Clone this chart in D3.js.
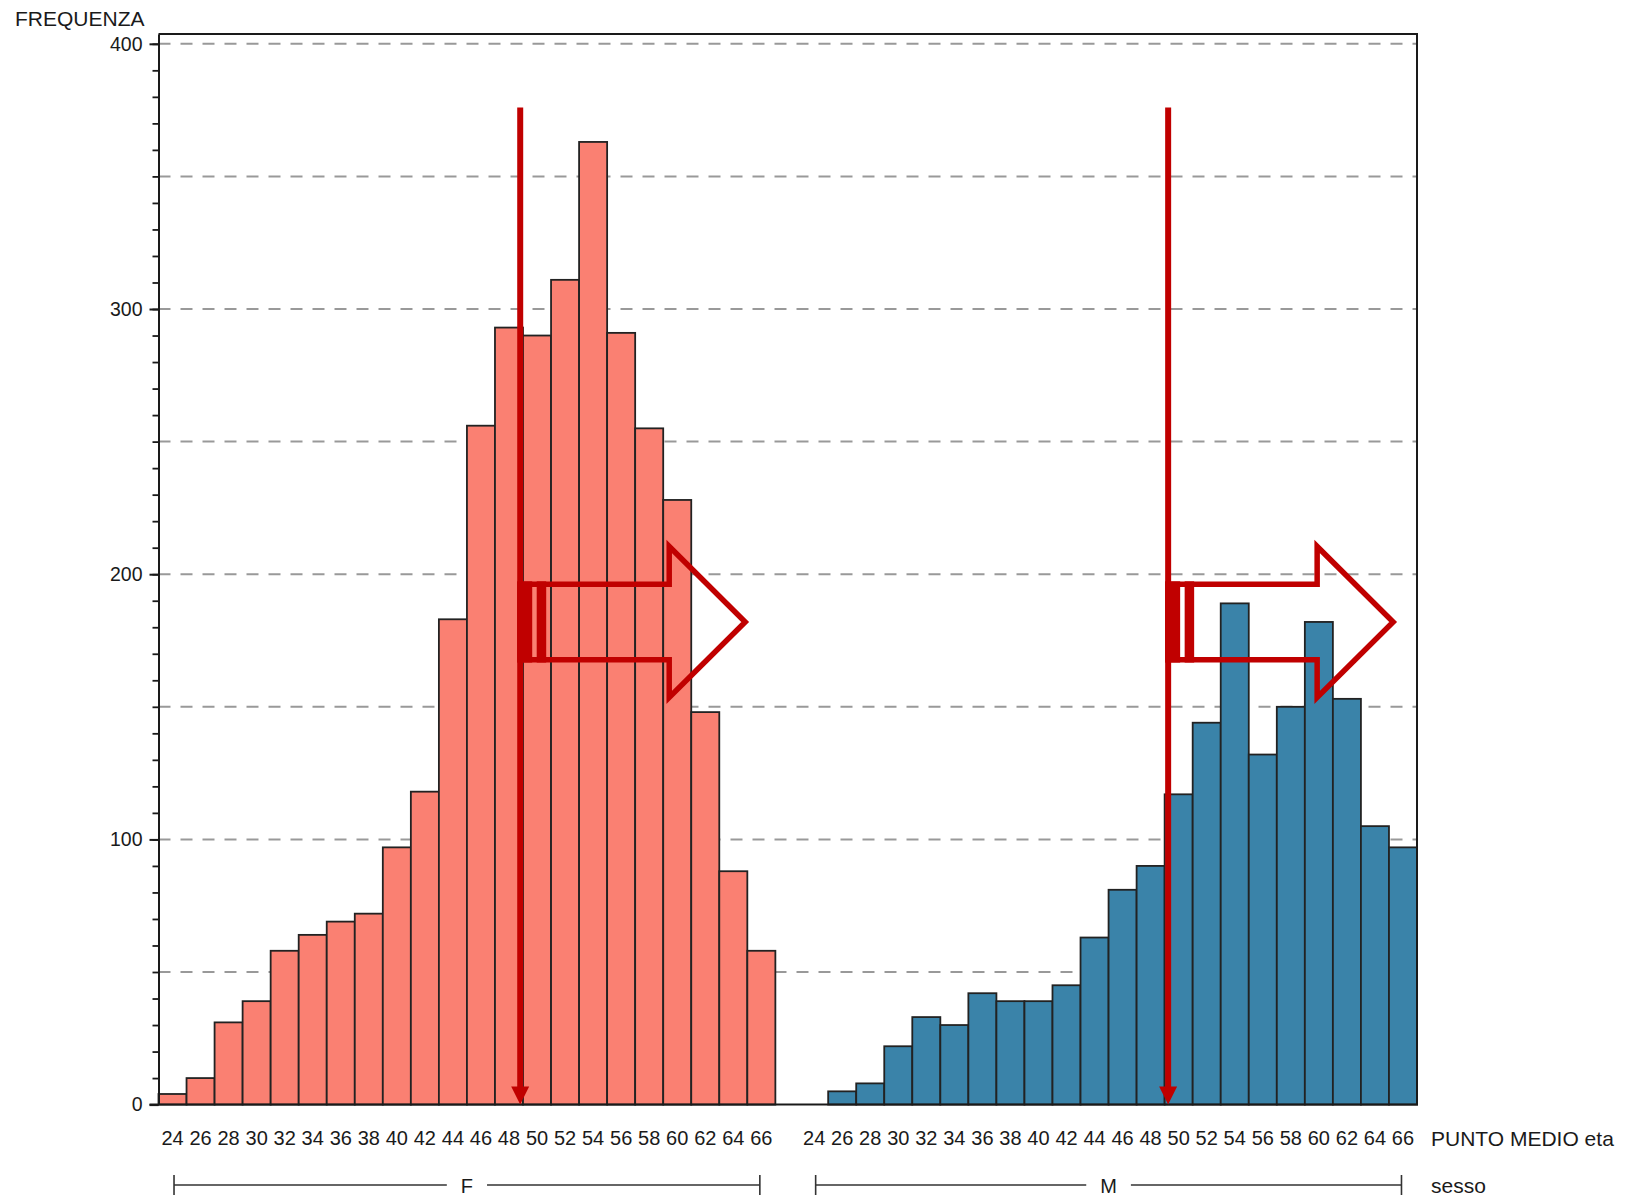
<!DOCTYPE html>
<html>
<head>
<meta charset="utf-8">
<script src="https://cdn.jsdelivr.net/npm/d3@7"></script>
<style>
  body { margin: 0; background: #fff; }
  text { font-family: "Liberation Sans", Arial, sans-serif; }
</style>
</head>
<body>
<svg width="1634" height="1198"></svg>
<script>
// data
var groups = ["F", "M"];
var ages = ["24", "26", "28", "30", "32", "34", "36", "38", "40", "42", "44",
  "46", "48", "50", "52", "54", "56", "58", "60", "62", "64", "66"];
var freqF = [4, 10, 31, 39, 58, 64, 69, 72, 97, 118, 183, 256, 293, 290, 311, 363, 291, 255, 228, 148, 88, 58];
var freqM = [0, 5, 8, 22, 33, 30, 42, 39, 39, 45, 63, 81, 90, 117, 144, 189, 132, 150, 182, 153, 105, 97];
var medians = [48.8, 49.25];
var yLabels = [0, 100, 200, 300, 400];
var gridValues = [50, 100, 150, 200, 250, 300, 350, 400];

var svg = d3.select("svg");
var plotLeft = 158.5, plotRight = 1417, plotTop = 34, plotBottom = 1104.6;
var ink = "#1a1a1a";
var red = "#C00000";
var colors = { F: "#FA8072", M: "#3A83A9" };

var y = d3.scaleLinear().domain([0, 403.7]).range([plotBottom, plotTop]);

var xGroup = d3.scaleBand().domain(groups).range([plotLeft, plotRight])
  .paddingInner(0.0386).paddingOuter(0);
var bw = xGroup.bandwidth();
var xAge = d3.scaleBand().domain(ages).range([0, bw]).padding(0);
var xAgeLin = d3.scaleLinear().domain([23, 67]).range([0, bw]);

// dashed grid
svg.append("g").selectAll("line").data(gridValues).enter().append("line")
  .attr("x1", plotLeft).attr("x2", plotRight)
  .attr("y1", function (d) { return y(d) }).attr("y2", function (d) { return y(d) })
  .attr("stroke", "#999").attr("stroke-width", 2).attr("stroke-dasharray", "12,10");

// bars
var series = { F: freqF, M: freqM };
groups.forEach(function (g) {
  var rows = ages.map(function (a, i) { return { age: a, v: series[g][i] } })
    .filter(function (d) { return d.v > 0 });
  svg.append("g").selectAll("rect").data(rows).enter().append("rect")
    .attr("x", function (d) { return xGroup(g) + xAge(d.age) })
    .attr("y", function (d) { return y(d.v) })
    .attr("width", xAge.bandwidth())
    .attr("height", function (d) { return y(0) - y(d.v) })
    .attr("fill", colors[g])
    .attr("stroke", "#222").attr("stroke-width", 1.8);
});

// frame
svg.append("path")
  .attr("d", "M" + plotLeft + "," + plotTop + "H" + plotRight + "V" + plotBottom + "H" + (plotLeft - 9))
  .attr("fill", "none").attr("stroke", ink).attr("stroke-width", 2);

// y axis
var minor = svg.append("g").attr("transform", "translate(" + plotLeft + ",0)")
  .call(d3.axisLeft(y).tickValues(d3.range(0, 401, 10)).tickSize(6).tickSizeOuter(0).tickFormat(""));
minor.selectAll("line").attr("stroke", ink).attr("stroke-width", 1.8);
minor.select(".domain").attr("stroke", ink).attr("stroke-width", 2);

var yAxis = svg.append("g").attr("transform", "translate(" + plotLeft + ",0)")
  .call(d3.axisLeft(y).tickValues(yLabels).tickSize(9).tickSizeOuter(0).tickPadding(7));
yAxis.select(".domain").remove();
yAxis.selectAll("line").attr("stroke", ink).attr("stroke-width", 2);
yAxis.selectAll("text").attr("fill", ink).attr("font-size", 19.5)
  .attr("font-family", "Liberation Sans, Arial, sans-serif");

// x axes, one per group
groups.forEach(function (g) {
  var ax = svg.append("g").attr("transform", "translate(" + xGroup(g) + "," + plotBottom + ")")
    .call(d3.axisBottom(xAge).tickSize(0).tickPadding(26));
  ax.select(".domain").remove();
  ax.selectAll("text").attr("fill", ink).attr("font-size", 20)
    .attr("font-family", "Liberation Sans, Arial, sans-serif");
});

// median lines with arrows
groups.forEach(function (g, i) {
  var m = xGroup(g) + xAgeLin(medians[i]);
  svg.append("line").attr("x1", m).attr("x2", m)
    .attr("y1", y(376)).attr("y2", plotBottom - 17)
    .attr("stroke", red).attr("stroke-width", 6);
  svg.append("path")
    .attr("d", "M" + (m - 9) + "," + (plotBottom - 18) + "L" + (m + 9) + "," + (plotBottom - 18) + "L" + m + "," + plotBottom + "Z")
    .attr("fill", red);

  var cy = y(182), bodyH = 37.8, headH = 75.5, back = m + 149, tip = m + 225;
  svg.append("path")
    .attr("d", "M" + m + "," + (cy - bodyH) + "H" + back + "V" + (cy - headH) +
      "L" + tip + "," + cy + "L" + back + "," + (cy + headH) + "V" + (cy + bodyH) + "H" + m + "Z")
    .attr("fill", "none").attr("stroke", red).attr("stroke-width", 5.5)
    .attr("stroke-miterlimit", 10);
  svg.append("rect").attr("x", m - 3).attr("y", cy - bodyH - 2.8)
    .attr("width", 15).attr("height", 2 * bodyH + 5.6).attr("fill", red);
  svg.append("rect").attr("x", m + 16.5).attr("y", cy - bodyH - 2.8)
    .attr("width", 9.5).attr("height", 2 * bodyH + 5.6).attr("fill", red);
});

// group brackets
var by = 1185;
groups.forEach(function (g) {
  var x1 = xGroup(g) + xAge(ages[0]) + xAge.bandwidth() / 2 + 1.5;
  var x2 = xGroup(g) + xAge(ages[ages.length - 1]) + xAge.bandwidth() / 2 - 1.5;
  var mid = (x1 + x2) / 2;
  var t = svg.append("text").attr("x", mid).attr("y", by + 8)
    .attr("text-anchor", "middle").attr("font-size", 20).attr("fill", ink).text(g);
  var half = t.node().getComputedTextLength() / 2 + 14;
  var br = svg.append("g").attr("stroke", "#333").attr("stroke-width", 1.6);
  br.append("line").attr("x1", x1).attr("x2", mid - half).attr("y1", by).attr("y2", by);
  br.append("line").attr("x1", mid + half).attr("x2", x2).attr("y1", by).attr("y2", by);
  br.append("line").attr("x1", x1).attr("x2", x1).attr("y1", by - 10).attr("y2", by + 10);
  br.append("line").attr("x1", x2).attr("x2", x2).attr("y1", by - 10).attr("y2", by + 10);
});

// titles
svg.append("text").attr("x", 15).attr("y", 26).attr("font-size", 21).attr("fill", ink).text("FREQUENZA");
svg.append("text").attr("x", 1431).attr("y", 1146).attr("font-size", 21).attr("fill", ink).text("PUNTO MEDIO eta");
svg.append("text").attr("x", 1431).attr("y", 1193).attr("font-size", 21).attr("fill", ink).text("sesso");
</script>
</body>
</html>
